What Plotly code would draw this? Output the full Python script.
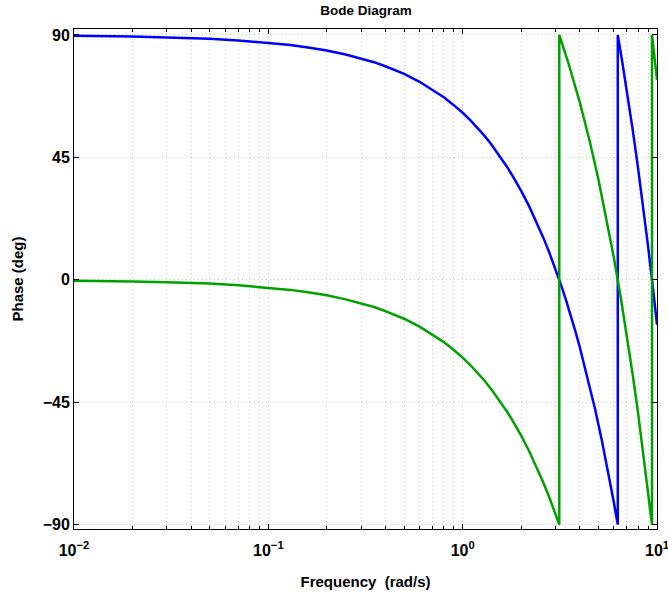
import plotly.graph_objects as go

# Blue series (frequency rad/s, phase deg)
blue_w = [0.01, 0.015, 0.02, 0.03, 0.04, 0.05, 0.07, 0.1, 0.13, 0.16, 0.2, 0.25, 0.3, 0.35,
          0.4, 0.45, 0.5, 0.6, 0.7, 0.8, 0.9, 1.0, 1.1, 1.2, 1.3, 1.4, 1.5, 1.6, 1.7, 1.8,
          1.9, 2.0, 2.2, 2.4, 2.6, 2.8, 3.0, 3.2, 3.4, 3.6, 3.8, 4.0, 4.4, 4.8, 5.2, 5.6,
          6.0, 6.283, 6.283, 6.6, 7.0, 7.5, 8.0, 8.5, 9.0, 9.5, 10.0]
blue_p = [89.7, 89.6, 89.4, 89.1, 88.9, 88.6, 88.0, 87.1, 86.3, 85.4, 84.3, 82.8, 81.4, 80.0,
          78.5, 77.1, 75.7, 72.8, 69.9, 67.1, 64.2, 61.4, 58.5, 55.6, 52.8, 49.9, 47.0, 44.2,
          41.3, 38.4, 35.6, 32.7, 27.0, 21.2, 15.5, 9.8, 4.1, -1.7, -7.4, -13.1, -18.9, -24.6,
          -36.1, -47.5, -59.0, -70.4, -81.9, -90.0, 90.0, 80.9, 69.5, 55.1, 40.8, 26.5, 12.2,
          -2.1, -16.5]

# Green series
green_w = [0.01, 0.015, 0.02, 0.03, 0.04, 0.05, 0.07, 0.1, 0.13, 0.16, 0.2, 0.25, 0.3, 0.35,
           0.4, 0.45, 0.5, 0.6, 0.7, 0.8, 0.9, 1.0, 1.1, 1.2, 1.3, 1.4, 1.5, 1.6, 1.7, 1.8,
           1.9, 2.0, 2.2, 2.4, 2.6, 2.8, 3.0, 3.1416, 3.1416, 3.5, 4.0, 4.5, 5.0, 5.5, 6.0,
           6.5, 7.0, 7.5, 8.0, 8.5, 9.0, 9.425, 9.425, 10.0]
green_p = [-0.3, -0.4, -0.6, -0.9, -1.1, -1.4, -2.0, -2.9, -3.7, -4.6, -5.7, -7.2, -8.6, -10.0,
           -11.5, -12.9, -14.3, -17.2, -20.1, -22.9, -25.8, -28.6, -31.5, -34.4, -37.2, -40.1,
           -43.0, -45.8, -48.7, -51.6, -54.4, -57.3, -63.0, -68.8, -74.5, -80.2, -85.9, -90.0,
           90.0, 79.7, 65.4, 51.1, 36.8, 22.4, 8.1, -6.2, -20.5, -34.9, -49.2, -63.5, -77.8,
           -90.0, 90.0, 73.5]

x_major = [0.01, 0.1, 1, 10]
x_major_text = ["<b>10<sup>−2</sup></b>", "<b>10<sup>−1</sup></b>", "<b>10<sup>0</sup></b>",
                "<b>10<sup>1</sup></b>"]
x_minor = [m * d for d in [0.01, 0.1, 1] for m in range(2, 10)]
y_ticks = [-90, -45, 0, 45, 90]
y_text = ["<b>−90</b>", "<b>−45</b>", "<b>0</b>", "<b>45</b>", "<b>90</b>"]

FONT = "Liberation Sans, Arial, Helvetica, sans-serif"
GRID = "#c4c4c4"
DASH = "1px,3px"

fig = go.Figure()
fig.add_trace(go.Scatter(x=blue_w, y=blue_p, mode="lines",
                         line=dict(color="#0000ff", width=2.5), showlegend=False))
fig.add_trace(go.Scatter(x=green_w, y=green_p, mode="lines",
                         line=dict(color="#00a000", width=2.5), showlegend=False))

fig.update_layout(
    width=668, height=596,
    margin=dict(l=74, r=11, t=29, b=67),
    paper_bgcolor="white", plot_bgcolor="white",
    font=dict(family=FONT, color="black", size=15),
    title=dict(text="<b>Bode Diagram</b>", x=0.548, xanchor="center",
               xref="container", yref="container", y=1 - 10 / 596,
               yanchor="middle", font=dict(size=13.5)),
)
fig.update_xaxes(
    type="log", range=[-2, 1], automargin=False, ticklabeloverflow="allow",
    tickmode="array", tickvals=x_major, ticktext=x_major_text,
    ticks="inside", ticklen=5, tickcolor="black", ticklabelstandoff=7,
    showline=True, linecolor="black", linewidth=1, mirror="ticks",
    showgrid=True, gridcolor=GRID, griddash=DASH, gridwidth=1,
    zeroline=False,
    minor=dict(tickmode="array", tickvals=x_minor, ticks="inside", ticklen=3,
               tickcolor="black", showgrid=True, gridcolor=GRID, griddash=DASH,
               gridwidth=1),
    title=dict(text="<b>Frequency  (rad/s)</b>", font=dict(size=15), standoff=18),
    tickfont=dict(size=16),
)
fig.update_yaxes(
    range=[-91.6, 92.2], automargin=False,
    tickmode="array", tickvals=y_ticks, ticktext=y_text,
    ticks="inside", ticklen=5, tickcolor="black",
    showline=True, linecolor="black", linewidth=1, mirror="ticks",
    showgrid=True, gridcolor=GRID, griddash=DASH, gridwidth=1,
    zeroline=False,
    title=dict(text="<b>Phase (deg)</b>", font=dict(size=15), standoff=15),
    tickfont=dict(size=16),
)

fig.write_html("out.html", config={"displayModeBar": False},
               post_script="document.body.style.margin='0';")
